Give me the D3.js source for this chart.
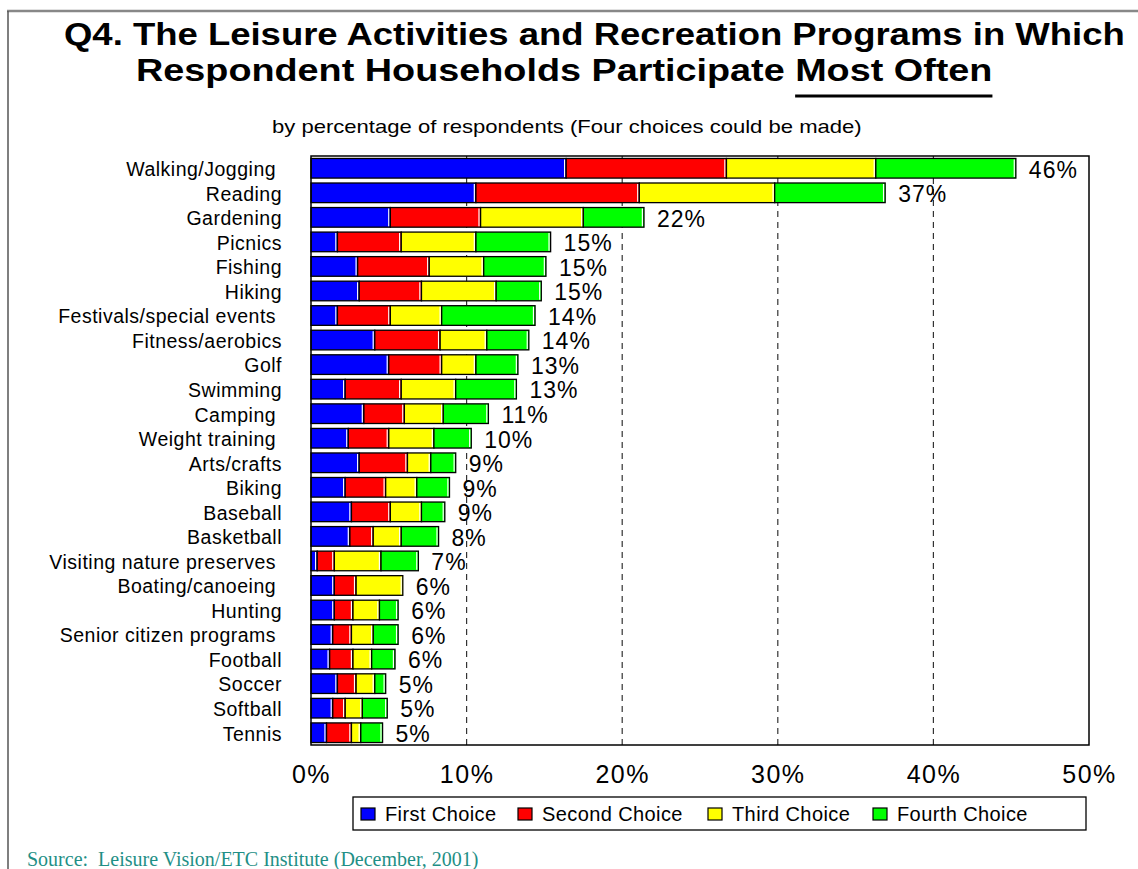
<!DOCTYPE html>
<html>
<head>
<meta charset="utf-8">
<script src="https://cdn.jsdelivr.net/npm/d3@7"></script>
<style>
  body { margin: 0; background: #fff; }
  svg { display: block; font-family: "Liberation Sans", Arial, sans-serif; }
</style>
</head>
<body>
<script>
// categories, top to bottom (trailing spaces kept as in the original labels)
const categories = ["Walking/Jogging ", "Reading", "Gardening", "Picnics", "Fishing", "Hiking",
  "Festivals/special events ", "Fitness/aerobics", "Golf", "Swimming", "Camping ", "Weight training ",
  "Arts/crafts", "Biking", "Baseball", "Basketball", "Visiting nature preserves ", "Boating/canoeing ",
  "Hunting", "Senior citizen programs ", "Football", "Soccer", "Softball", "Tennis"];

// percent of respondents per choice
const first  = [16.4, 10.6, 5.1, 1.7, 3.0, 3.1, 1.7, 4.1, 5.0, 2.2, 3.4, 2.4, 3.1, 2.2, 2.6, 2.5, 0.4, 1.5, 1.5, 1.4, 1.2, 1.7, 1.4, 1.0];
const second = [10.3, 10.5, 5.8, 4.1, 4.6, 4.0, 3.4, 4.2, 3.4, 3.6, 2.6, 2.6, 3.1, 2.6, 2.5, 1.5, 1.1, 1.4, 1.2, 1.2, 1.5, 1.2, 0.8, 1.6];
const third  = [9.6, 8.7, 6.6, 4.8, 3.5, 4.8, 3.3, 3.0, 2.2, 3.5, 2.5, 2.9, 1.5, 2.0, 2.0, 1.8, 3.0, 3.0, 1.7, 1.4, 1.2, 1.2, 1.1, 0.6];
const fourth = [9.0, 7.1, 3.9, 4.8, 4.0, 2.9, 6.0, 2.7, 2.7, 3.9, 2.9, 2.4, 1.6, 2.1, 1.5, 2.4, 2.4, 0.0, 1.2, 1.6, 1.5, 0.7, 1.6, 1.4];

// total labels as printed
const totalLabels = ["46%", "37%", "22%", "15%", "15%", "15%", "14%", "14%", "13%", "13%", "11%", "10%",
  "9%", "9%", "9%", "8%", "7%", "6%", "6%", "6%", "6%", "5%", "5%", "5%"];

const seriesNames = ["First Choice", "Second Choice", "Third Choice", "Fourth Choice"];
const seriesColors = ["#0000ff", "#ff0000", "#ffff00", "#00ff00"];
const xTicks = [0, 10, 20, 30, 40, 50];

const width = 1138, height = 869;
const svg = d3.select("body").append("svg")
  .attr("width", width)
  .attr("height", height);

// outer frame (top and left edges)
svg.append("line").attr("x1", 7).attr("x2", width).attr("y1", 11).attr("y2", 11)
  .attr("stroke", "#888").attr("stroke-width", 2.5);
svg.append("line").attr("x1", 8).attr("x2", 8).attr("y1", 11).attr("y2", height)
  .attr("stroke", "#555").attr("stroke-width", 1.5);

// the original text is drawn horizontally stretched: squeeze each line into its width
function stretchedText(x0, y0, w, size, bold, str) {
  const g = svg.append("g");
  const t = g.append("text")
    .style("font-size", size + "px")
    .style("font-weight", bold ? "bold" : "normal")
    .style("white-space", "pre")
    .text(str);
  const sx = w / t.node().getComputedTextLength();
  g.attr("transform", `translate(${x0},${y0}) scale(${sx},1)`);
  return {g: g, t: t};
}

stretchedText(64, 45, 1061, 31, true, "Q4. The Leisure Activities and Recreation Programs in Which");

const t2a = "Respondent Households Participate ";
const t2b = "Most Often";
const line2 = stretchedText(136, 81, 857, 31, true, t2a + t2b);
const tnode = line2.t.node();
const ux1 = tnode.getStartPositionOfChar(t2a.length).x;
const ux2 = tnode.getEndPositionOfChar(t2a.length + t2b.length - 1).x;
line2.g.append("line")
  .attr("x1", ux1).attr("x2", ux2).attr("y1", 15).attr("y2", 15)
  .attr("stroke", "#000").attr("stroke-width", 3);

stretchedText(272, 133, 590, 18, false, "by percentage of respondents (Four choices could be made)");

// scales
const x = d3.scaleLinear().domain([0, 50]).range([311, 1089]);
const y = d3.scaleBand().domain(categories).range([156, 745]).paddingInner(0.2).paddingOuter(0.1);

// gridlines
svg.append("g")
  .selectAll("line")
  .data([10, 20, 30, 40])
  .join("line")
    .attr("x1", d => x(d)).attr("x2", d => x(d))
    .attr("y1", 156).attr("y2", 745)
    .attr("stroke", "#333")
    .attr("stroke-width", 1.2)
    .attr("stroke-dasharray", "6,5");

// stacked data
const rows = categories.map((c, i) => ({
  cat: c, "First Choice": first[i], "Second Choice": second[i],
  "Third Choice": third[i], "Fourth Choice": fourth[i]
}));
const stacked = d3.stack().keys(seriesNames)(rows);

const layers = svg.append("g")
  .selectAll("g")
  .data(stacked)
  .join("g")
    .attr("fill", (d, i) => seriesColors[i]);

const segs = layers.selectAll("g")
  .data(d => d.filter(s => s[1] - s[0] > 0))
  .join("g");

segs.append("rect")
  .attr("x", d => x(d[0]))
  .attr("y", d => y(d.data.cat))
  .attr("width", d => x(d[1]) - x(d[0]))
  .attr("height", y.bandwidth())
  .attr("stroke", "#000")
  .attr("stroke-width", 1.3);

// white inner highlight on the right side of each segment
segs.append("line")
  .attr("x1", d => x(d[1]) - 1.6).attr("x2", d => x(d[1]) - 1.6)
  .attr("y1", d => y(d.data.cat) + 1)
  .attr("y2", d => y(d.data.cat) + y.bandwidth() - 1)
  .attr("stroke", "#fff")
  .attr("stroke-width", 1.2);

// total labels
const totals = stacked[stacked.length - 1];
svg.append("g")
  .selectAll("text")
  .data(totals)
  .join("text")
    .attr("x", d => x(d[1]) + 13)
    .attr("y", d => y(d.data.cat) + y.bandwidth() / 2 + 1)
    .attr("dy", "0.36em")
    .style("font-size", "23px")
    .style("letter-spacing", "1px")
    .text((d, i) => totalLabels[i]);

// plot frame
svg.append("rect")
  .attr("x", 311).attr("y", 156)
  .attr("width", x(50) - 311).attr("height", 745 - 156)
  .attr("fill", "none")
  .attr("stroke", "#000")
  .attr("stroke-width", 1.5);

// category axis
const yAxis = svg.append("g")
  .attr("transform", "translate(311,0)")
  .call(d3.axisLeft(y).tickSize(0).tickPadding(29));
yAxis.select(".domain").remove();
yAxis.selectAll("text")
  .style("font-size", "19.5px")
  .style("letter-spacing", "0.5px")
  .style("white-space", "pre")
  .attr("fill", "#000")
  .attr("dy", "0.4em");

// percent axis
const xAxis = svg.append("g")
  .attr("transform", "translate(0,745)")
  .call(d3.axisBottom(x).tickValues(xTicks).tickSize(0).tickPadding(20).tickFormat(d => d + "%"));
xAxis.select(".domain").remove();
xAxis.selectAll("text")
  .style("font-size", "25px")
  .style("letter-spacing", "1.5px")
  .attr("fill", "#000");

// legend
const legend = svg.append("g");
legend.append("rect")
  .attr("x", 353).attr("y", 797).attr("width", 733).attr("height", 33)
  .attr("fill", "#fff").attr("stroke", "#000").attr("stroke-width", 1.3);
const legendX = [361, 518, 708, 873];
const items = legend.selectAll("g.item")
  .data(seriesNames)
  .join("g")
    .attr("class", "item")
    .attr("transform", (d, i) => `translate(${legendX[i]},0)`);
items.append("rect")
  .attr("x", 0).attr("y", 808).attr("width", 14).attr("height", 12)
  .attr("fill", (d, i) => seriesColors[i])
  .attr("stroke", "#000").attr("stroke-width", 1.2);
items.append("text")
  .attr("x", 24).attr("y", 821)
  .style("font-size", "20px")
  .style("letter-spacing", "0.4px")
  .text(d => d);

// source note
svg.append("text")
  .attr("x", 27).attr("y", 866)
  .style("font-family", "'Liberation Serif', 'Times New Roman', serif")
  .style("font-size", "20px")
  .attr("fill", "#1f8f86")
  .style("white-space", "pre")
  .text("Source:  Leisure Vision/ETC Institute (December, 2001)");
</script>
</body>
</html>
